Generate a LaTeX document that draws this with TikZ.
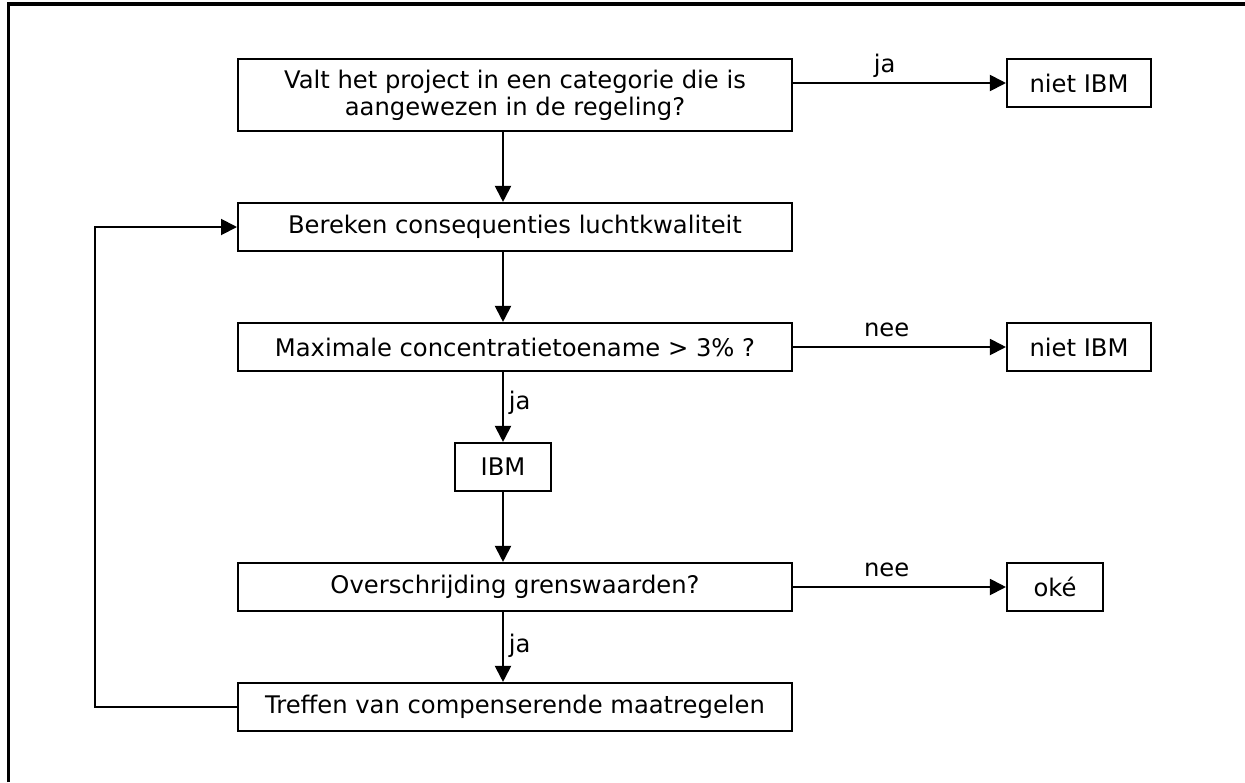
\documentclass[tikz,border=0pt]{standalone}
\usepackage{fontspec}
\setmainfont{DejaVu Sans}
\usetikzlibrary{arrows.meta}

\begin{document}
\begin{tikzpicture}[x=0.02cm, y=-0.02cm,
    doos/.style={draw, line width=1.2pt, inner sep=0pt, minimum height=0.96cm, align=center, font=\fontsize{13.8}{15.5}\selectfont},
    pijl/.style={line width=1.1pt, -{Triangle[length=0.32cm, width=0.32cm]}},
    tekst/.style={inner sep=0pt, text depth=0pt, font=\fontsize{13.8}{15.5}\selectfont}]

            \useasboundingbox (0,0) rectangle (1245,782);
            \draw[line width=1.8pt] (8.5,782) |- (1245,4);

            \node[doos, minimum width=11.08cm, minimum height=1.44cm] (valt) at (515,95) {Valt het project in een categorie die is\\aangewezen in de regeling?};
            \node[doos, minimum width=11.08cm] (bereken) at (515,227) {Bereken consequenties luchtkwaliteit};
            \node[doos, minimum width=11.08cm] (maximale) at (515,347) {Maximale concentratietoename > 3\% ?};
            \node[doos, minimum width=1.92cm] (ibm) at (503,467) {IBM};
            \node[doos, minimum width=11.08cm] (overschrijding) at (515,587) {Overschrijding grenswaarden?};
            \node[doos, minimum width=11.08cm] (treffen) at (515,707) {Treffen van compenserende maatregelen};

            \node[doos, minimum width=2.88cm] (niet1) at (1079,83) {niet IBM};
            \node[doos, minimum width=2.88cm] (niet2) at (1079,347) {niet IBM};
            \node[doos, minimum width=1.92cm] (oke) at (1055,587) {oké};

            \coordinate (terug) at (95,707);

            \draw[pijl] (valt.east |- niet1) -- (niet1) node[tekst, above=0.2cm, pos=.43] {ja};
            \draw[pijl] (maximale) -- (niet2) node[tekst, above=0.2cm, pos=.44] {nee};
            \draw[pijl] (overschrijding) -- (oke) node[tekst, above=0.2cm, pos=.44] {nee};

            \draw[pijl] (valt.south -| ibm) -- (bereken.north -| ibm);
            \draw[pijl] (bereken.south -| ibm) -- (maximale.north -| ibm);
            \draw[pijl] (maximale.south -| ibm) -- (ibm) node[tekst, right=0.1cm, pos=.4] {ja};
            \draw[pijl] (ibm) -- (overschrijding.north -| ibm);
            \draw[pijl] (overschrijding.south -| ibm) -- (treffen.north -| ibm) node[tekst, right=0.1cm, pos=.45] {ja};
            \draw[pijl] (treffen.west) -- (terug) |- (bereken.west);
        \end{tikzpicture}
\end{document}
